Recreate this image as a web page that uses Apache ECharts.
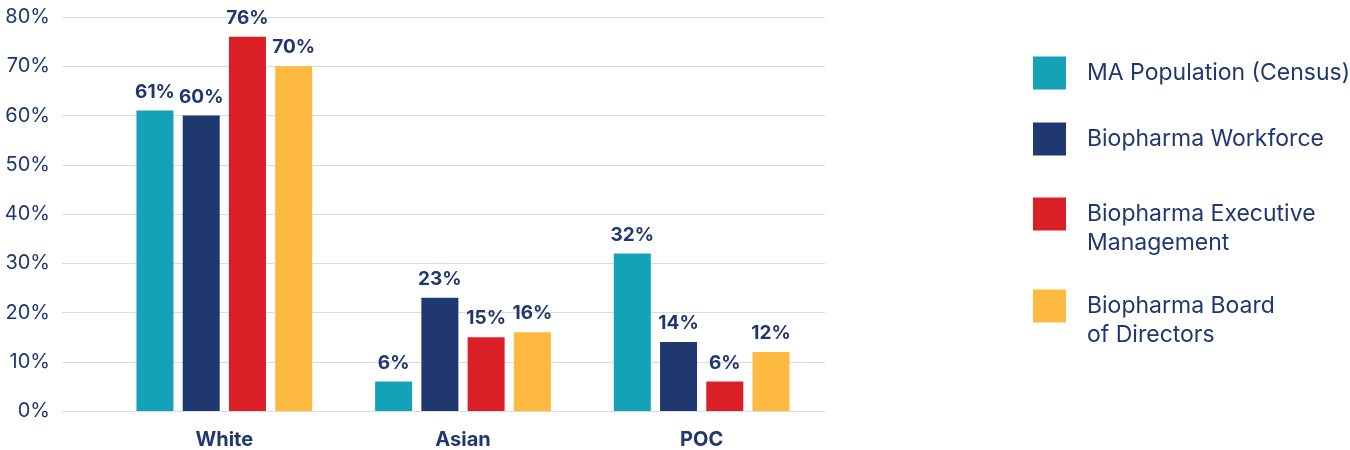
<!DOCTYPE html>
<html>
<head>
<meta charset="utf-8">
<script src="https://cdn.jsdelivr.net/npm/echarts@6/dist/echarts.min.js"></script>
<style>
  html, body { margin: 0; padding: 0; background: #ffffff; }
  #chart { width: 1350px; height: 450px; }
</style>
</head>
<body>
<div id="chart"></div>
<script>
// Share of each group, in percent
const categories = ['White', 'Asian', 'POC'];
const seriesNames = [
  'MA Population (Census)',
  'Biopharma Workforce',
  'Biopharma Executive\nManagement',
  'Biopharma Board\nof Directors'
];
const censusValues    = [61, 6, 32];
const workforceValues = [60, 23, 14];
const executiveValues = [76, 15, 6];
const boardValues     = [70, 16, 12];
const yTicks = [0, 10, 20, 30, 40, 50, 60, 70, 80];

const colors = ['#14A2B9', '#1F386F', '#DA1F26', '#FDB940'];
const ink = '#1F386F';
const font = 'Inter, "Noto Sans", sans-serif';
const seriesValues = [censusValues, workforceValues, executiveValues, boardValues];

const chart = echarts.init(document.getElementById('chart'), null, { renderer: 'canvas' });

// One legend per entry, each placed by the centre of its swatch.
// Two-line names get a blank leading line so the swatch lines up with the first line.
const swatchCenters = [73, 139, 214, 306];
const swatch = 33;
const lineH = 29;
const legends = seriesNames.map((name, i) => {
  const multi = name.indexOf('\n') >= 0;
  return {
    orient: 'vertical',
    left: 1033,
    top: multi ? swatchCenters[i] - lineH * 1.5 : swatchCenters[i] - swatch / 2,
    padding: 0,
    data: [name],
    icon: 'rect',
    itemWidth: swatch,
    itemHeight: swatch,
    selectedMode: false,
    formatter: (n) => (n.indexOf('\n') >= 0 ? '\n' + n : n),
    textStyle: {
      color: ink,
      fontFamily: font,
      fontSize: 23,
      lineHeight: lineH,
      padding: [0, 0, 0, 16]
    }
  };
});

chart.setOption({
  animation: false,
  color: colors,
  legend: legends,
  grid: [
    { left: 62, right: 525, top: 17, bottom: 39 },
    { left: 105, right: 529, top: 17, bottom: 39 }
  ],
  xAxis: [
    { gridIndex: 0, type: 'value', show: false, min: 0, max: 1 },
    {
      gridIndex: 1,
      type: 'category',
      data: categories,
      axisLine: { show: false },
      axisTick: { show: false },
      axisLabel: {
        color: ink,
        fontFamily: font,
        fontWeight: 'bold',
        fontSize: 20,
        margin: 19
      }
    }
  ],
  yAxis: [
    {
      gridIndex: 0,
      type: 'value',
      min: yTicks[0],
      max: yTicks[yTicks.length - 1],
      interval: yTicks[1] - yTicks[0],
      axisLine: { show: false },
      axisTick: { show: false },
      axisLabel: {
        formatter: '{value}%',
        color: ink,
        fontFamily: font,
        fontSize: 20,
        margin: 12
      },
      splitLine: { lineStyle: { color: '#dcdcdc', width: 1.2 } }
    },
    {
      gridIndex: 1,
      type: 'value',
      show: false,
      min: yTicks[0],
      max: yTicks[yTicks.length - 1]
    }
  ],
  series: seriesNames.map((name, i) => ({
    name: name,
    type: 'bar',
    xAxisIndex: 1,
    yAxisIndex: 1,
    data: seriesValues[i],
    barWidth: 37,
    barGap: '25%',
    itemStyle: { color: colors[i] },
    label: {
      show: true,
      position: 'top',
      distance: 9,
      formatter: '{c}%',
      color: ink,
      fontFamily: font,
      fontWeight: 'bold',
      fontSize: 19
    }
  }))
});
</script>
</body>
</html>
